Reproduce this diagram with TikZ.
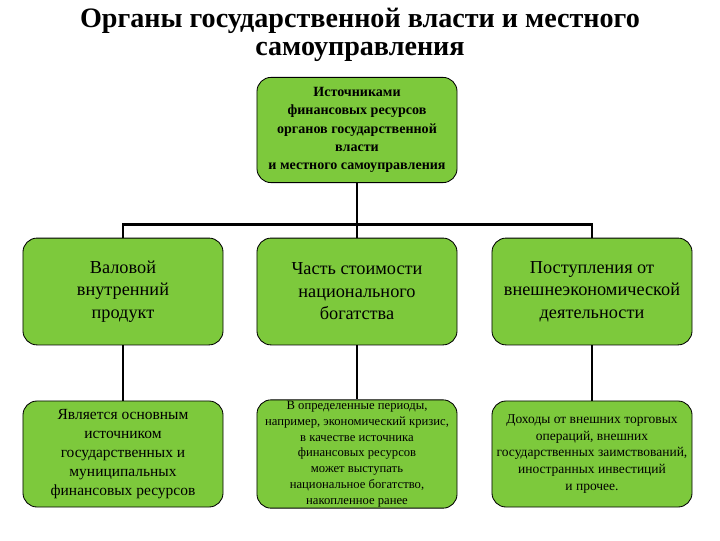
\documentclass[tikz,border=0pt]{standalone}
\usepackage{fontspec}
\setmainfont{Liberation Serif}
\usetikzlibrary{positioning, calc}
\definecolor{leafgreen}{RGB}{125,201,60}

\begin{document}
\begin{tikzpicture}[
        x=0.025cm, y=-0.025cm,
        title/.style={
            align=center,
            font=\fontsize{20}{20}\selectfont\bfseries
        },
        root/.style={
            draw=black,
            fill=leafgreen,
            rounded corners=10pt,
            line width=0.6pt,
            minimum width=5cm,
            minimum height=2.63cm,
            align=center,
            inner sep=1pt,
            font=\fontsize{10}{13}\selectfont\bfseries
        },
        level1/.style={
            root,
            minimum height=2.67cm,
            font=\fontsize{13}{16}\selectfont
        },
        level2/.style={
            root,
            minimum height=2.65cm,
            font=\fontsize{11}{13.5}\selectfont
        },
        line/.style={draw, line width=2.1pt}
    ]

    \useasboundingbox (0,0) rectangle (720,540);

    % Title
    \node[title] (title) at (360,35) {Органы государственной власти и местного\\самоуправления};

    % Root
    \node[root] (root) at (357,130) {Источниками\\финансовых ресурсов\\органов государственной\\власти\\и местного самоуправления};

    % Level 1
    \node[level1] (gdp) at (123,291.5) {Валовой\\внутренний\\продукт};
    \node[level1] (wealth) at (357,291.5) {Часть стоимости\\национального\\богатства};
    \node[level1] (trade) at (592,291.5) {Поступления от\\внешнеэкономической\\деятельности};

    \draw[line] (root.south) -- +(0,41) -| (gdp.north);
    \draw[line] (root.south) -- +(0,41) -| (wealth.north);
    \draw[line] (root.south) -- +(0,41) -| (trade.north);

    % Level 2
    \node[level2] (gdp_note) at (123,454) {Является основным\\источником\\государственных и\\муниципальных\\финансовых ресурсов};
    \node[level2, font=\fontsize{9}{11.2}\selectfont] (wealth_note) at (357,454) {В определенные периоды,\\например, экономический кризис,\\в качестве источника\\финансовых ресурсов\\может выступать\\национальное богатство,\\накопленное ранее};
    \node[level2, font=\fontsize{9.6}{11.8}\selectfont] (trade_note) at (592,454) {Доходы от внешних торговых\\операций, внешних\\государственных заимствований,\\иностранных инвестиций\\и прочее.};

    \draw[line] (gdp.south) -- (gdp_note.north);
    \draw[line] (wealth.south) -- (wealth_note.north);
    \draw[line] (trade.south) -- (trade_note.north);

\end{tikzpicture}
\end{document}
